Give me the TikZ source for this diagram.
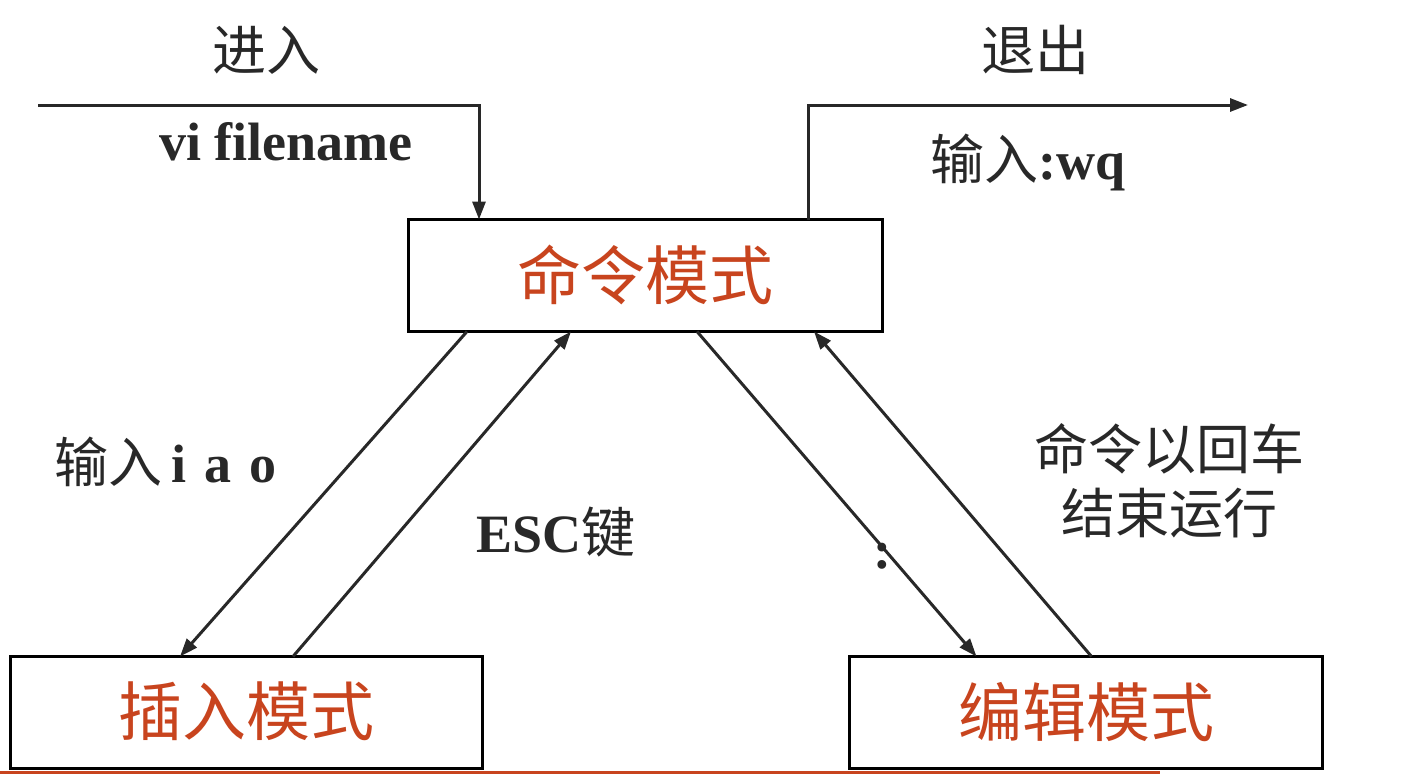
\documentclass[tikz,border=0pt]{standalone}
\usepackage{fontspec}
\setmainfont{Liberation Serif}
\newfontfamily\cjk{Noto Sans CJK SC}
\usetikzlibrary{arrows.meta}
\definecolor{modered}{RGB}{200,68,30}
\definecolor{inkgray}{RGB}{40,40,40}
\tikzset{
  modebox/.style={draw=black, line width=3pt, outer sep=0pt, inner sep=0pt,
    minimum height=112pt, text=modered, font=\cjk\fontsize{64pt}{70pt}\selectfont},
  lbl/.style={inner sep=0pt, text=inkgray, font=\fontsize{54pt}{64pt}\selectfont},
  arr/.style={draw=inkgray, line width=3pt, -{Triangle[length=18pt,width=13pt]}},
}
\newcommand{\lat}[1]{{\bfseries #1}}
\newcommand{\up}[1]{\raisebox{7pt}{#1}}
\begin{document}
\begin{tikzpicture}[x=1pt,y=-1pt]
\path[use as bounding box, fill=white] (0,0) rectangle (1412,774);
% boxes
\node[modebox, minimum width=474pt] (cmd) at (645,275.5) {\up{命令模式}};
\node[modebox, minimum width=472pt] (ins) at (246,712.5) {\up{插入模式}};
\node[modebox, minimum width=473pt] (edt) at (1086,712.5) {\up{编辑模式}};
% free ends
\coordinate (entS) at (38,105);
\coordinate (exE) at (1248,105);
% enter / exit
\draw[arr] (entS) -| ([xshift=71pt]cmd.north west);
\draw[arr] ([xshift=400pt]cmd.north west) |- (exE);
% diagonals
\draw[arr] ([xshift=59pt]cmd.south west) -- ([xshift=170pt]ins.north west);
\draw[arr] ([xshift=283pt]ins.north west) -- ([xshift=163pt]cmd.south west);
\draw[arr] ([xshift=289pt]cmd.south west) -- ([xshift=127pt]edt.north west);
\draw[arr] ([xshift=242pt]edt.north west) -- ([xshift=406pt]cmd.south west);
% labels
\node[lbl, font=\cjk\fontsize{54pt}{64pt}\selectfont] (tin) at (266,50) {进入};
\node[lbl] (tvi) at (286,142) {\lat{vi filename}};
\node[lbl, font=\cjk\fontsize{54pt}{64pt}\selectfont] (tout) at (1035,50) {退出};
\node[lbl] (twq) at (1028,162) {{\cjk 输入}\lat{:wq}};
\node[lbl] (tiao) at (166,462) {{\cjk 输入}\,\lat{i\,\,a\,\,o}};
\node[lbl] (tesc) at (556,532) {\lat{ESC}{\cjk 键}};
\node[lbl] (tcol) at (882,556) {\lat{:}};
\node[lbl, align=center, font=\cjk\fontsize{54pt}{64pt}\selectfont] (tret) at (1169,481) {命令以回车\\结束运行};
% slide bottom rule
\draw[modered, line width=3pt] (0,772) -- (1160,772);
\end{tikzpicture}
\end{document}
